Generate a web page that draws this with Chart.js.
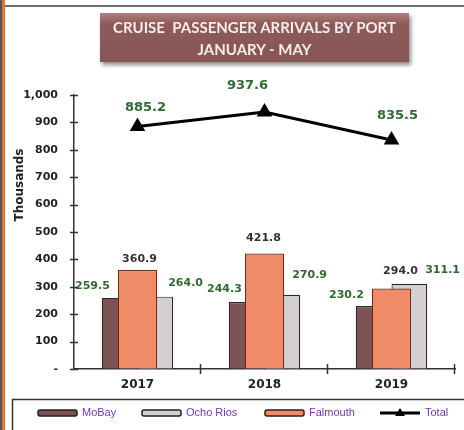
<!DOCTYPE html>
<html lang="en">
<head>
<meta charset="UTF-8" />
<title>Cruise Passenger Arrivals by Port</title>
<style>
  * { margin: 0; padding: 0; }
  body { width: 464px; height: 430px; overflow: hidden; background: #fff; position: relative; }
  .frameDark { position: absolute; left: 0; top: 0; width: 2px; height: 430px; background: #555; }
  .frameOrange { position: absolute; left: 2px; top: 0; width: 3px; height: 430px; background: #e2752f; }
  .frameTop { position: absolute; left: 5px; top: 5px; width: 459px; height: 2px; background: #6a6a6a; }
  .chartBox { position: absolute; left: 0; top: 0; width: 464px; height: 430px; }
  .titleBox {
    position: absolute; left: 100px; top: 13px; width: 309px; height: 49px;
    box-sizing: border-box; padding-top: 3px;
    background: linear-gradient(#b07d7d, #8e5b5b 22%, #885555);
    box-shadow: 2px 3px 4px rgba(0, 0, 0, 0.45);
    color: #f7ecec; font: bold 15px Lato, sans-serif; line-height: 22px;
    text-align: center; white-space: pre;
  }
</style>
</head>
<body>
  <div class="chartBox"><canvas id="myChart" width="464" height="430"></canvas></div>
  <div class="frameDark"></div>
  <div class="frameOrange"></div>
  <div class="frameTop"></div>
  <div class="titleBox">CRUISE  PASSENGER ARRIVALS BY PORT
JANUARY - MAY</div>

<script src="https://cdn.jsdelivr.net/npm/chart.js"></script>
<script>
  // data
  const years = ["2017", "2018", "2019"];
  const moBay = [259.5, 244.3, 230.2];
  const ochoRios = [264.0, 270.9, 311.1];
  const falmouth = [360.9, 421.8, 294.0];
  const total = [885.2, 937.6, 835.5];

  const green = "#2e6b30";

  // label placement per dataset: anchor + small nudges [dx, dy]
  const labelStyle = [
    { anchor: "left", color: green, size: 11, nudge: [[8, -12], [13, -13], [8, -11]] },
    { anchor: "right", color: green, size: 11, nudge: [[-5, -14], [-8, -20], [-2, -14]] },
    { anchor: "top", color: "#333", size: 11, nudge: [[2, -11], [-1, -15], [9, -17]] },
    { anchor: "top", color: green, size: 13, nudge: [[8, -19], [-17, -26], [6, -24]] }
  ];

  // value labels
  const valueLabels = {
    id: "valueLabels",
    afterDatasetsDraw(chart) {
      const { ctx, data } = chart;
      ctx.save();
      ctx.textBaseline = "middle";
      data.datasets.forEach((ds, i) => {
        const st = labelStyle[i];
        ctx.font = "bold " + st.size + "px 'DejaVu Sans'";
        ctx.fillStyle = st.color;
        chart.getDatasetMeta(i).data.forEach((el, j) => {
          const p = el.getProps(["x", "y", "width"], true);
          let x = p.x;
          if (st.anchor === "left") { ctx.textAlign = "right"; x = p.x - p.width / 2; }
          else if (st.anchor === "right") { ctx.textAlign = "left"; x = p.x + p.width / 2; }
          else { ctx.textAlign = "center"; }
          ctx.fillText(ds.data[j].toFixed(1), x + st.nudge[j][0], p.y + st.nudge[j][1]);
        });
      });
      ctx.restore();
    }
  };

  // crossing tick marks, axis title and boxed legend
  const decorations = {
    id: "decorations",
    afterDraw(chart) {
      const { ctx, scales: { x, y }, data } = chart;
      ctx.save();
      ctx.strokeStyle = "#333";
      ctx.lineWidth = 1.5;
      ctx.beginPath();
      y.ticks.forEach((t) => {
        const py = Math.round(y.getPixelForValue(t.value)) + 0.5;
        ctx.moveTo(y.right - 4, py);
        ctx.lineTo(y.right + 4, py);
      });
      const step = (x.right - x.left) / years.length;
      for (let i = 1; i <= years.length; i++) {
        const px = Math.round(x.left + i * step) - 0.5;
        ctx.moveTo(px, x.top - 5);
        ctx.lineTo(px, x.top + 5);
      }
      ctx.stroke();

      // y title
      ctx.fillStyle = "#222";
      ctx.font = "bold 12px 'DejaVu Sans'";
      ctx.textAlign = "center";
      ctx.textBaseline = "middle";
      ctx.translate(20, 185);
      ctx.rotate(-Math.PI / 2);
      ctx.fillText("Thousands", 0, 0);
      ctx.setTransform(1, 0, 0, 1, 0, 0);

      // legend
      ctx.strokeStyle = "#333";
      ctx.lineWidth = 1.5;
      ctx.strokeRect(12.5, 399.5, 470, 60);
      const legendX = [38, 142, 265, 380];
      const ly = 413;
      ctx.font = "11px 'Liberation Sans'";
      ctx.textAlign = "left";
      data.datasets.forEach((ds, i) => {
        const lx = legendX[i];
        if (ds.type === "line") {
          ctx.strokeStyle = "#000";
          ctx.lineWidth = 3;
          ctx.beginPath();
          ctx.moveTo(lx, ly);
          ctx.lineTo(lx + 40, ly);
          ctx.stroke();
          ctx.fillStyle = "#000";
          ctx.beginPath();
          ctx.moveTo(lx + 20, ly - 5);
          ctx.lineTo(lx + 25, ly + 3);
          ctx.lineTo(lx + 15, ly + 3);
          ctx.closePath();
          ctx.fill();
        } else {
          ctx.fillStyle = ds.backgroundColor;
          ctx.strokeStyle = "#222";
          ctx.lineWidth = 1.5;
          ctx.beginPath();
          ctx.roundRect(lx, ly - 3, 39, 6, 2);
          ctx.fill();
          ctx.stroke();
        }
        ctx.fillStyle = "#7a33b5";
        ctx.fillText(ds.label, lx + (ds.type === "line" ? 45 : 44), ly);
      });
      ctx.restore();
    }
  };

  const tickFont = { family: "'DejaVu Sans'", weight: "bold", size: 11 };

  // config
  const config = {
    type: "bar",
    data: {
      labels: years,
      datasets: [
        {
          label: "MoBay",
          data: moBay,
          backgroundColor: "#7e5353",
          borderColor: "#2a2a2a",
          borderWidth: 1.2,
          categoryPercentage: 0.5625,
          barPercentage: 1,
          order: 3
        },
        {
          label: "Ocho Rios",
          data: ochoRios,
          backgroundColor: "#d4d0d0",
          borderColor: "#2a2a2a",
          borderWidth: 1.2,
          categoryPercentage: 0.5625,
          barPercentage: 1,
          order: 3
        },
        {
          label: "Falmouth",
          data: falmouth,
          backgroundColor: "#f08b67",
          borderColor: "#6b2a1a",
          borderWidth: 1.2,
          grouped: false,
          categoryPercentage: 1,
          barPercentage: 0.31,
          order: 2
        },
        {
          type: "line",
          label: "Total",
          data: total,
          borderColor: "#000",
          borderWidth: 3,
          pointStyle: "triangle",
          pointRadius: 6,
          pointBackgroundColor: "#000",
          pointBorderColor: "#000",
          tension: 0,
          order: 1
        }
      ]
    },
    options: {
      responsive: false,
      animation: false,
      layout: { padding: { top: 95, right: 5, bottom: 0, left: 0 } },
      plugins: {
        legend: { display: false },
        tooltip: { enabled: false }
      },
      scales: {
        x: {
          offset: true,
          grid: { drawOnChartArea: false, drawTicks: false, color: "transparent" },
          border: { color: "#333", width: 1.5 },
          ticks: { font: { family: "'DejaVu Sans'", weight: "bold", size: 12 }, color: "#222", padding: 9 },
          afterFit(scale) { scale.height = 61; }
        },
        y: {
          min: 0,
          max: 1000,
          grid: { drawOnChartArea: false, drawTicks: false, color: "transparent" },
          border: { color: "#333", width: 1.5 },
          ticks: {
            stepSize: 100,
            padding: 16,
            font: tickFont,
            color: "#222",
            callback: (v) => (v === 0 ? "-" : v.toLocaleString("en-US"))
          },
          afterFit(scale) { scale.width = 74; }
        }
      }
    },
    plugins: [valueLabels, decorations]
  };

  // render
  const myChart = new Chart(document.getElementById("myChart"), config);
</script>
</body>
</html>
